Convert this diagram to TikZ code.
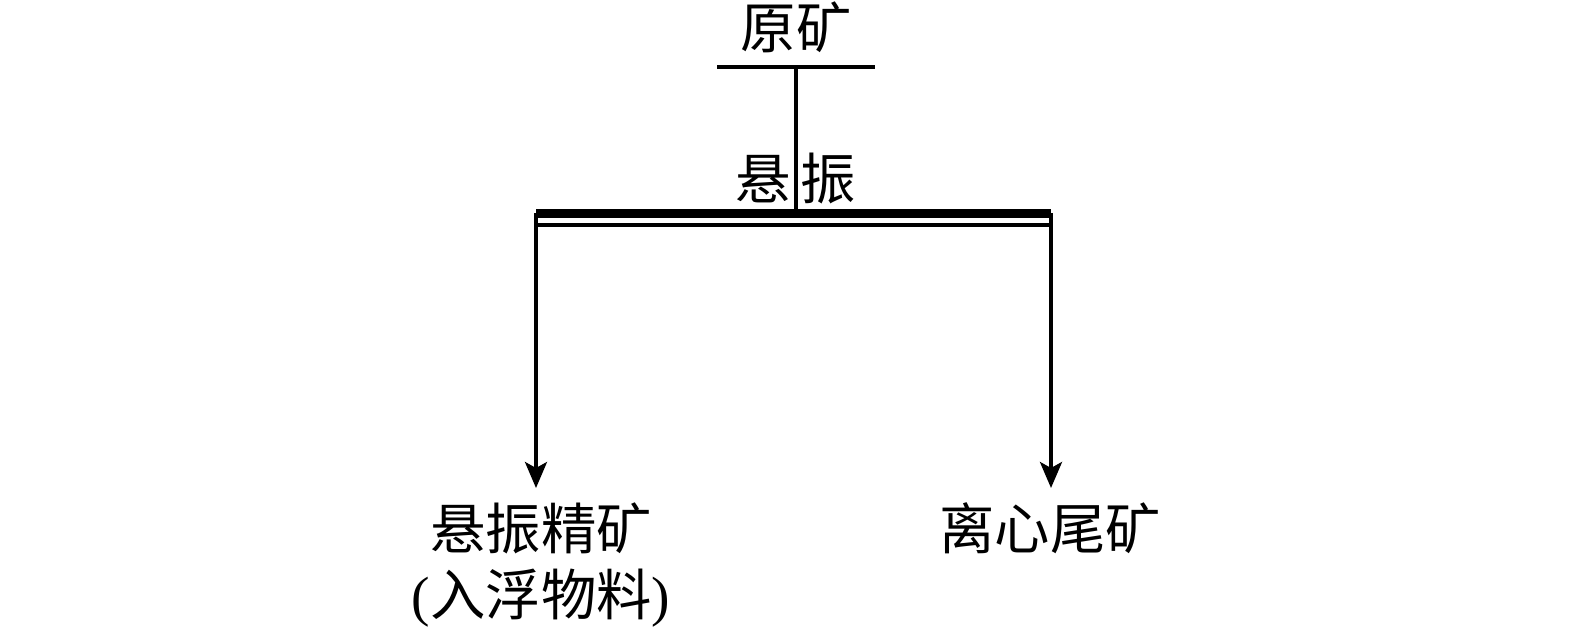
\documentclass[tikz,border=0pt]{standalone}
\usepackage{fontspec}
\setmainfont{Liberation Serif}
\newfontfamily\cjk{Noto Sans CJK SC}
\usetikzlibrary{arrows.meta, positioning}
\tikzstyle{word} = [inner sep=0pt, font=\cjk\fontsize{31.5}{38}\selectfont]
\tikzstyle{line} = [line width=2pt]
\tikzstyle{deck} = [line width=5pt]
\tikzstyle{arrow} = [line width=2pt, -{Stealth[length=0.52cm, width=0.44cm, inset=0.12cm]}]

\begin{document}
\begin{tikzpicture}
\useasboundingbox (0,0) rectangle (31.5,12.64);
\node (feed) [word] at (15.92,12.10) {原矿};
\coordinate (feedL) at (14.34,11.30);
\coordinate (feedR) at (17.50,11.30);
\coordinate (feedM) at (15.92,11.30);
\coordinate (deckL) at (10.72,8.37);
\coordinate (deckR) at (21.02,8.37);
\coordinate (deckM) at (15.92,8.37);
\coordinate (baseL) at (10.72,8.14);
\coordinate (baseR) at (21.02,8.14);
\node (vibA) [word] at (15.26,9.06) {悬};
\node (vibB) [word, right=0.18cm of vibA] {振};
\node (conc) [word] at (10.82,2.08) {悬振精矿};
\node (float) [word, below=0.3cm of conc] {{\rmfamily(}入浮物料{\rmfamily)}};
\node (tail) [word] at (21.0,2.08) {离心尾矿};
\coordinate (concIn) at (10.72,2.88);
\coordinate (tailIn) at (21.02,2.88);
\draw [line] (feedL) -- (feedR);
\draw [line] (feedM) -- (deckM);
\draw [deck] (deckL) -- (deckR);
\draw [line] (baseL) -- (baseR);
\draw [arrow] (deckL) -- (concIn);
\draw [arrow] (deckR) -- (tailIn);
\end{tikzpicture}
\end{document}
